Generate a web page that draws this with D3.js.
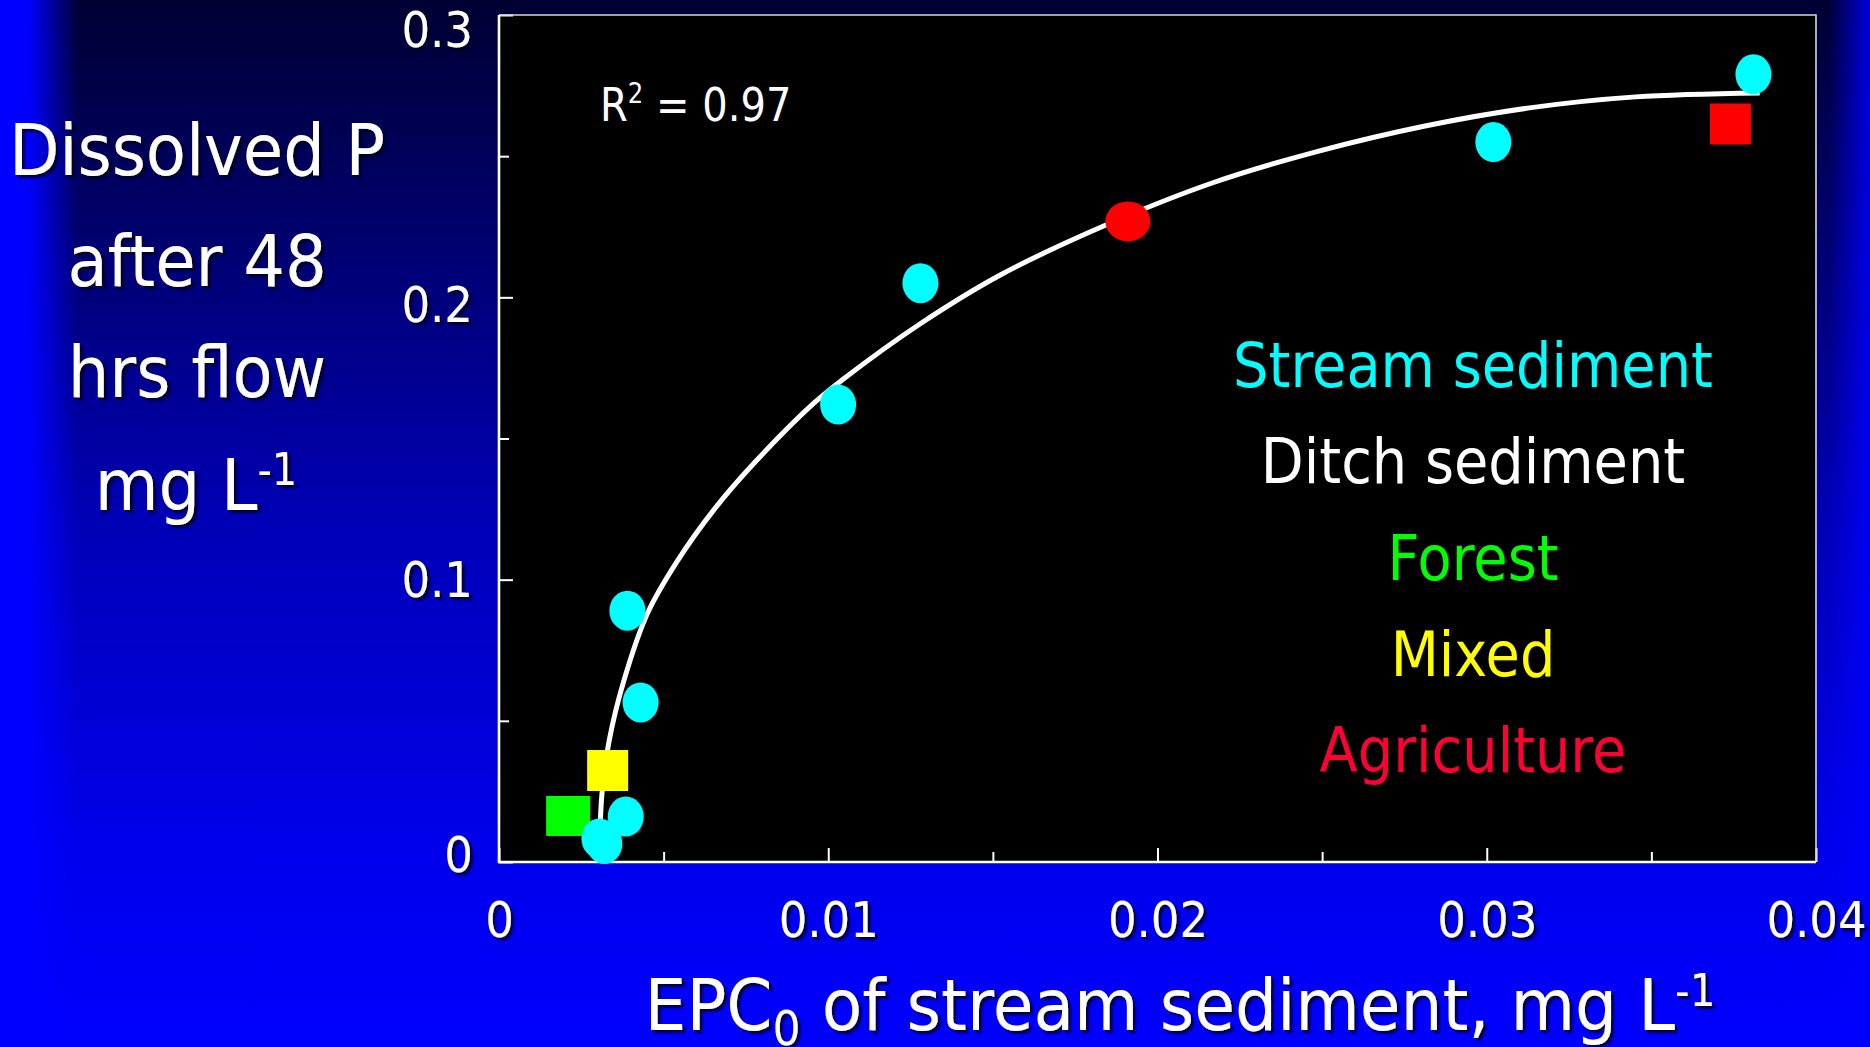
<!DOCTYPE html>
<html>
<head>
<meta charset="utf-8">
<script src="https://cdn.jsdelivr.net/npm/d3@7"></script>
<style>
  html, body { margin: 0; padding: 0; background: #000033; overflow: hidden; }
  svg { display: block; }
</style>
</head>
<body>
<svg id="chart" width="1870" height="1047"></svg>
<script>
// ---- Data: EPC0 of stream sediment (mg/L) vs dissolved P after 48 h flow (mg/L)
const streamEPC = [0.0381, 0.0302, 0.0128, 0.0103, 0.0039, 0.0043, 0.00385, 0.00305, 0.0032];
const streamDP  = [0.279, 0.255, 0.205, 0.162, 0.089, 0.0565, 0.0161, 0.0083, 0.0064];
const forestEPC = [0.0021];
const forestDP  = [0.0163];
const mixedEPC  = [0.0033];
const mixedDP   = [0.0324];
const agricultureEPC = [0.0191, 0.0374];
const agricultureDP  = [0.2269, 0.2614];

// Fitted trend line (R² = 0.97)
const fitEPC = [0.00305, 0.00313, 0.00335, 0.0038, 0.00451, 0.0054, 0.00653, 0.00775, 0.00957,
                0.01043, 0.01275, 0.01524, 0.01845, 0.02166, 0.02487, 0.02809, 0.0313,
                0.03452, 0.03829];
const fitDP  = [0.0043, 0.0245, 0.0432, 0.0645, 0.0881, 0.1063, 0.1248, 0.1413, 0.1626,
                0.1708, 0.1903, 0.2080, 0.2257, 0.2405, 0.2517, 0.2606, 0.2671,
                0.2710, 0.2724];
const rSquared = "0.97";

// Legend entries
const legendLabels = ["Stream sediment", "Ditch sediment", "Forest", "Mixed", "Agriculture"];

// Axes
const xMajorTicks = [0, 0.01, 0.02, 0.03, 0.04];
const xMinorTicks = [0.005, 0.015, 0.025, 0.035];
const xTickLabels = ["0", "0.01", "0.02", "0.03", "0.04"];
const yMajorTicks = [0, 0.1, 0.2, 0.3];
const yMinorTicks = [0.05, 0.15, 0.25];
const yTickLabels = ["0", "0.1", "0.2", "0.3"];
const yTitleLines = ["Dissolved P", "after 48", "hrs flow"];

// ---- Styles
const legendColors = ["#00ffff", "#ffffff", "#00ff00", "#ffff00", "#ff0033"];
const agricultureMarkers = ["ellipse", "square"];
const FONT = "'DejaVu Sans', Verdana, sans-serif";

// ---- Layout
const W = 1870, H = 1047;
const plot = { left: 499, right: 1816, top: 15, bottom: 862 };

const svg = d3.select("#chart").attr("viewBox", `0 0 ${W} ${H}`);
const defs = svg.append("defs");

// background gradients
const bg = defs.append("linearGradient").attr("id", "bgV")
  .attr("x1", 0).attr("y1", 0).attr("x2", 0).attr("y2", 1);
[[0, "#000033"], [0.28, "#00007c"], [0.5, "#0000b6"], [0.8, "#0000ea"], [1, "#0000ff"]]
  .forEach(([o, c]) => bg.append("stop").attr("offset", o).attr("stop-color", c));

const bandL = defs.append("linearGradient").attr("id", "bandL")
  .attr("x1", 0).attr("y1", 0).attr("x2", 1).attr("y2", 0);
[[0, 1], [0.36, 1], [1, 0]].forEach(([o, a]) =>
  bandL.append("stop").attr("offset", o).attr("stop-color", "#0000ff").attr("stop-opacity", a));

const bandR = defs.append("linearGradient").attr("id", "bandR")
  .attr("x1", 0).attr("y1", 0).attr("x2", 1).attr("y2", 0);
[[0, 0], [1, 0.85]].forEach(([o, a]) =>
  bandR.append("stop").attr("offset", o).attr("stop-color", "#0000ff").attr("stop-opacity", a));

const shadow = defs.append("filter").attr("id", "shadow")
  .attr("x", "-10%").attr("y", "-20%").attr("width", "130%").attr("height", "150%");
shadow.append("feDropShadow").attr("dx", 3).attr("dy", 3).attr("stdDeviation", 1.2)
  .attr("flood-color", "#000022").attr("flood-opacity", 0.85);

svg.append("rect").attr("width", W).attr("height", H).attr("fill", "url(#bgV)");
svg.append("rect").attr("width", 78).attr("height", H).attr("fill", "url(#bandL)");
svg.append("rect").attr("x", 1828).attr("width", 42).attr("height", H).attr("fill", "url(#bandR)");

// ---- Scales
const x = d3.scaleLinear().domain([0, 0.04]).range([plot.left, plot.right]);
const y = d3.scaleLinear().domain([0, 0.3]).range([plot.bottom, plot.top]);
// tick labels sit on slightly tighter spacing than the ticks
const yLabel = d3.scaleLinear().domain([0, 0.3]).range([854, 29]);

// plot area
svg.append("rect")
  .attr("x", plot.left).attr("y", plot.top)
  .attr("width", plot.right - plot.left).attr("height", plot.bottom - plot.top)
  .attr("fill", "#000000");

// text helper: horizontally narrowed DejaVu to approximate the slide face
function label(g, tx, ty, size, anchor, sx, color) {
  return g.append("text")
    .attr("transform", `translate(${tx},${ty}) scale(${sx},1)`)
    .attr("font-family", FONT).attr("font-size", size)
    .attr("text-anchor", anchor).attr("fill", color || "#fff");
}

// ---- Axes (ticks point inward)
function styleAxis(g) {
  g.select(".domain").remove();
  g.selectAll(".tick line").attr("stroke", "#ffffff").attr("stroke-width", 2);
}

const xAxisMajor = svg.append("g").attr("transform", `translate(0,${plot.bottom})`)
  .call(d3.axisBottom(x).tickValues(xMajorTicks).tickSize(-14).tickPadding(40)
    .tickFormat((d, i) => xTickLabels[i]))
  .call(styleAxis);
xAxisMajor.selectAll(".tick text")
  .attr("font-family", FONT).attr("font-size", 50).attr("fill", "#fff")
  .attr("transform", "scale(0.9,1)").attr("filter", "url(#shadow)");

svg.append("g").attr("transform", `translate(0,${plot.bottom})`)
  .call(d3.axisBottom(x).tickValues(xMinorTicks).tickSize(-10).tickFormat(""))
  .call(styleAxis);

svg.append("g").attr("transform", `translate(${plot.left},0)`)
  .call(d3.axisLeft(y).tickValues(yMajorTicks).tickSize(-14).tickFormat(""))
  .call(styleAxis);
svg.append("g").attr("transform", `translate(${plot.left},0)`)
  .call(d3.axisLeft(y).tickValues(yMinorTicks).tickSize(-10).tickFormat(""))
  .call(styleAxis);

const yLabels = svg.append("g").attr("filter", "url(#shadow)");
yMajorTicks.forEach((v, i) => {
  label(yLabels, 473, yLabel(v) + 18, 50, "end", 0.9).text(yTickLabels[i]);
});

// frame: heavier axis lines left/bottom, light border top/right
svg.append("path")
  .attr("d", `M${plot.left},${plot.top}H${plot.right}V${plot.bottom}`)
  .attr("fill", "none").attr("stroke", "#d8d8d8").attr("stroke-width", 1.6);
svg.append("path")
  .attr("d", `M${plot.left},${plot.top}V${plot.bottom}H${plot.right}`)
  .attr("fill", "none").attr("stroke", "#ffffff").attr("stroke-width", 2.6);

// ---- Trend line
const fitData = fitEPC.map((e, i) => ({ e, p: fitDP[i] }));
svg.append("path")
  .datum(fitData)
  .attr("fill", "none").attr("stroke", "#ffffff").attr("stroke-width", 5)
  .attr("stroke-linecap", "butt")
  .attr("d", d3.line().x(d => x(d.e)).y(d => y(d.p)).curve(d3.curveCatmullRom.alpha(0.5)));

// ---- Points
const markerStyle = {
  ellipseSmall: { rx: 18, ry: 20 },
  ellipseWide: { rx: 22.5, ry: 20 },
  square: { w: 41, h: 41 },
  squareWide: { w: 44, h: 40 }
};
const points = [];
forestEPC.forEach((e, i) => points.push({ e, p: forestDP[i], color: legendColors[2], marker: "squareWide" }));
mixedEPC.forEach((e, i) => points.push({ e, p: mixedDP[i], color: legendColors[3], marker: "square" }));
agricultureEPC.forEach((e, i) => points.push({
  e, p: agricultureDP[i], color: "#ff0000",
  marker: agricultureMarkers[i] === "ellipse" ? "ellipseWide" : "square"
}));
streamEPC.forEach((e, i) => points.push({ e, p: streamDP[i], color: legendColors[0], marker: "ellipseSmall" }));

const pg = svg.append("g");
points.forEach(d => {
  const m = markerStyle[d.marker];
  if (m.rx) {
    pg.append("ellipse").attr("cx", x(d.e)).attr("cy", y(d.p))
      .attr("rx", m.rx).attr("ry", m.ry).attr("fill", d.color);
  } else {
    pg.append("rect").attr("x", x(d.e) - m.w / 2).attr("y", y(d.p) - m.h / 2)
      .attr("width", m.w).attr("height", m.h).attr("fill", d.color);
  }
});

// ---- R² annotation
const r2 = label(svg, 600, 121, 46, "start", 0.87);
r2.append("tspan").text("R");
r2.append("tspan").attr("font-size", 28).attr("dy", -18).text("2");
r2.append("tspan").attr("dy", 18).text(" = " + rSquared);

// ---- Legend (coloured labels)
const lg = svg.append("g");
legendLabels.forEach((t, i) => {
  label(lg, 1473, 387 + i * 96.3, 62, "middle", 0.9, legendColors[i]).text(t);
});

// ---- Y title
const yt = svg.append("g").attr("filter", "url(#shadow)");
const yBase = [175, 286, 397];
yTitleLines.forEach((t, i) => label(yt, 197, yBase[i], 72, "middle", 0.91).text(t));
const unitsY = label(yt, 196, 510, 72, "middle", 0.91);
unitsY.append("tspan").text("mg L");
unitsY.append("tspan").attr("font-size", 44).attr("dy", -25).text("-1");

// ---- X title
const xt = label(svg, 1180, 1030, 72, "middle", 0.92).attr("filter", "url(#shadow)");
xt.append("tspan").text("EPC");
xt.append("tspan").attr("font-size", 48).attr("dy", 15).text("0");
xt.append("tspan").attr("dy", -15).text(" of stream sediment, mg L");
xt.append("tspan").attr("font-size", 44).attr("dy", -24).text("-1");
</script>
</body>
</html>
